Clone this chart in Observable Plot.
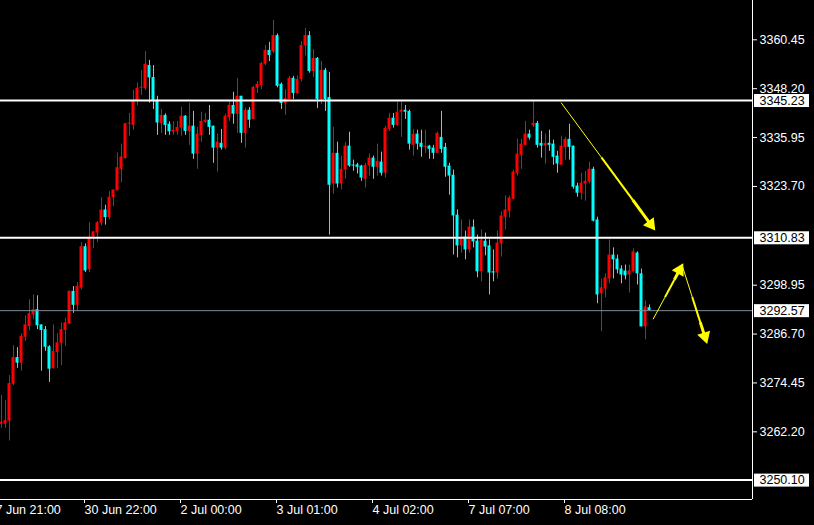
<!DOCTYPE html>
<html><head><meta charset="utf-8">
<script src="https://cdn.jsdelivr.net/npm/d3@7"></script>
<script src="https://cdn.jsdelivr.net/npm/@observablehq/plot@0.6"></script>
<style>html,body{margin:0;padding:0;background:#000;}#chart{width:814px;height:525px;overflow:hidden;}</style>
</head><body><div id="chart"></div>
<script>
// H1 candles, oldest first
const opens = [3264.1,3264.1,3264.9,3274.1,3280.8,3279.4,3285.9,3288.6,3291.5,3292.8,
3289.0,3287.8,3283.5,3278.0,3282.1,3284.4,3287.6,3289.3,3297.4,3293.9,
3298.2,3308.6,3302.8,3311.0,3312.0,3314.5,3317.8,3315.9,3320.9,3322.6,
3328.0,3330.7,3339.3,3339.0,3345.0,3348.3,3348.2,3354.0,3351.0,3345.3,
3339.5,3341.5,3339.3,3337.3,3337.5,3338.3,3341.3,3337.5,3338.8,3331.8,
3336.5,3339.8,3340.3,3338.8,3333.3,3334.5,3333.3,3341.0,3344.0,3341.8,
3346.3,3337.0,3342.8,3340.5,3348.3,3349.0,3354.3,3357.8,3357.4,3361.5,
3349.3,3344.5,3345.5,3350.8,3347.0,3350.5,3358.9,3361.5,3352.5,3355.8,
3345.5,3352.8,3346.0,3324.3,3332.0,3324.3,3327.8,3333.8,3329.05,3329.1,
3328.8,3325.5,3328.8,3330.8,3328.5,3329.8,3327.0,3338.0,3340.8,3339.0,
3342.3,3342.8,3342.5,3334.0,3336.8,3334.5,3333.5,3333.8,3333.3,3332.0,
3336.0,3333.5,3328.8,3326.5,3316.5,3308.8,3311.0,3307.8,3313.5,3310.0,
3302.3,3310.0,3308.8,3302.3,3302.0,3309.3,3316.0,3317.5,3320.5,3327.0,
3331.5,3334.0,3336.8,3339.0,3339.5,3334.5,3333.8,3334.5,3334.3,3331.3,
3329.0,3333.5,3335.5,3333.8,3323.8,3322.0,3324.3,3324.8,3328.0,3315.3,
3296.8,3298.0,3300.5,3306.5,3305.5,3303.0,3302.5,3301.5,3302.3,3307.0,
3301.8,3288.5,3293.3];
const highs = [3271.3,3270.0,3276.3,3283.8,3283.3,3286.8,3291.3,3295.3,3296.5,3296.3,
3289.0,3288.6,3283.8,3289.0,3286.8,3289.5,3290.7,3297.5,3298.6,3299.6,
3309.6,3309.3,3314.6,3312.4,3314.9,3320.9,3319.0,3322.4,3322.8,3332.1,
3334.3,3339.5,3342.0,3347.8,3349.6,3352.8,3357.5,3355.3,3354.0,3346.3,
3343.0,3341.9,3339.9,3339.9,3340.0,3343.5,3341.5,3344.5,3342.5,3338.5,
3342.3,3342.0,3344.0,3338.8,3336.8,3338.0,3341.8,3345.0,3347.3,3350.8,
3346.3,3343.3,3343.5,3348.8,3350.0,3354.8,3359.0,3359.8,3365.3,3361.9,
3349.6,3348.0,3351.3,3351.3,3351.4,3360.0,3363.3,3362.5,3358.0,3356.0,
3355.0,3353.3,3352.3,3338.5,3334.8,3331.3,3334.8,3337.3,3330.3,3329.5,
3329.0,3329.5,3331.8,3331.3,3334.3,3332.3,3338.8,3342.0,3342.0,3344.8,
3344.8,3344.0,3342.8,3338.0,3337.8,3337.8,3337.8,3334.0,3334.0,3337.3,
3342.5,3334.5,3329.5,3327.8,3317.8,3315.3,3312.5,3315.3,3315.3,3311.5,
3312.8,3312.0,3310.3,3307.8,3312.5,3317.3,3321.3,3321.3,3327.8,3335.5,
3335.5,3340.0,3337.8,3345.0,3340.0,3337.5,3336.8,3337.8,3335.3,3332.5,
3336.3,3336.0,3339.3,3333.8,3324.5,3327.0,3327.5,3329.8,3328.5,3316.0,
3300.5,3301.8,3310.3,3308.3,3306.5,3303.8,3304.0,3304.0,3308.0,3307.3,
3303.0,3295.0,3294.0];
const lows = [3263.1,3263.1,3259.9,3273.8,3278.1,3277.4,3284.9,3287.5,3290.3,3287.8,
3277.4,3282.4,3274.6,3278.0,3278.0,3278.8,3283.6,3289.1,3291.9,3292.4,
3297.8,3302.1,3302.1,3308.2,3309.6,3313.8,3314.0,3315.3,3318.6,3322.6,
3324.6,3330.5,3336.3,3337.8,3343.9,3346.5,3347.8,3344.6,3343.0,3336.5,
3337.0,3336.5,3336.5,3336.5,3336.5,3336.3,3336.5,3334.0,3330.5,3328.0,
3334.8,3339.5,3336.5,3329.5,3327.3,3332.8,3332.8,3340.0,3339.3,3337.0,
3334.5,3333.3,3338.3,3340.5,3347.0,3348.0,3354.0,3355.0,3357.0,3348.4,
3343.0,3341.5,3345.5,3345.5,3346.8,3349.9,3356.4,3352.1,3351.0,3343.2,
3344.2,3342.5,3311.5,3321.8,3323.3,3322.8,3325.5,3328.5,3327.5,3326.8,
3325.0,3323.3,3326.3,3325.5,3326.3,3326.3,3325.8,3337.5,3338.3,3338.8,
3336.0,3340.5,3332.8,3331.3,3332.8,3331.0,3332.0,3330.5,3330.5,3332.0,
3332.0,3326.0,3321.5,3306.5,3305.8,3307.0,3305.3,3307.0,3308.3,3300.8,
3299.8,3306.3,3296.5,3299.8,3300.5,3306.0,3312.8,3315.8,3320.3,3326.3,
3328.0,3334.0,3335.3,3338.5,3333.3,3330.8,3329.3,3332.5,3329.0,3327.0,
3329.0,3330.3,3330.3,3323.0,3321.0,3320.3,3320.0,3324.3,3314.8,3294.3,
3287.3,3295.8,3299.3,3300.5,3301.8,3299.3,3300.3,3297.0,3302.0,3299.0,
3288.5,3285.3,3292.57];
const closes = [3264.6,3265.0,3274.3,3280.8,3279.4,3286.1,3289.0,3291.8,3292.8,3288.8,
3287.6,3283.4,3277.9,3282.3,3284.5,3287.8,3289.5,3297.4,3293.9,3298.6,
3308.6,3302.5,3311.0,3312.3,3314.6,3317.8,3315.9,3321.0,3322.8,3328.4,
3331.1,3339.4,3339.55,3345.0,3348.3,3348.55,3354.3,3350.9,3345.3,3339.6,
3341.5,3339.0,3337.4,3337.8,3338.5,3341.3,3337.5,3338.8,3331.8,3336.8,
3340.0,3340.3,3338.5,3333.3,3334.8,3333.3,3341.3,3344.0,3341.8,3346.3,
3337.0,3342.8,3340.3,3348.5,3349.3,3354.5,3357.8,3356.5,3361.5,3348.8,
3344.5,3345.7,3350.8,3347.0,3350.5,3359.0,3361.5,3352.5,3355.8,3345.5,
3352.8,3345.5,3324.0,3332.0,3324.3,3328.0,3333.8,3328.8,3328.8,3328.5,
3325.8,3329.0,3330.8,3328.5,3330.0,3327.0,3338.3,3340.8,3339.0,3342.3,
3342.8,3342.3,3334.3,3336.8,3334.3,3333.5,3333.8,3333.0,3332.0,3337.0,
3333.0,3328.5,3326.3,3316.3,3308.8,3311.0,3307.8,3313.5,3309.8,3302.3,
3310.3,3308.5,3302.0,3302.0,3309.5,3316.3,3317.8,3320.8,3327.3,3331.8,
3334.3,3336.8,3335.8,3339.5,3334.0,3333.8,3334.5,3334.0,3331.0,3329.3,
3333.8,3335.5,3333.5,3323.5,3322.0,3324.5,3325.0,3328.0,3315.0,3296.5,
3298.3,3300.8,3306.5,3305.3,3302.8,3301.5,3301.3,3302.5,3307.3,3301.8,
3288.5,3293.5,3292.57];

const levels = [3345.23, 3310.83, 3250.10];
const lastPrice = 3292.57;
const yTicks = [3360.45, 3348.20, 3335.95, 3323.70, 3298.95, 3286.70, 3274.45, 3262.20];
const xTickIndex = [-3, 21, 45, 69, 93, 117, 141];
const xTickLabels = ["27 Jun 21:00", "30 Jun 22:00", "2 Jul 00:00", "3 Jul 01:00", "4 Jul 02:00", "7 Jul 07:00", "8 Jul 08:00"];
const arrowFromX = [139.9, 162.9, 170.1];
const arrowFromY = [3344.7, 3290.4, 3304.1];
const arrowToX = [163.4, 170.4, 176.4];
const arrowToY = [3312.7, 3304.4, 3284.3];
const xDomain = [-0.25, 187.75];
const yDomain = [3245.24, 3370.3];

const W = 814, H = 525, ML = 0, MR = 62, MT = 0, MB = 26;
const RED = "#ff0000", CYAN = "#00ffff", YEL = "#ffff00";
const candles = opens.map((o, i) => ({i, open: o, high: highs[i], low: lows[i], close: closes[i]}));
const col = d => d.close >= d.open ? RED : CYAN;
const labelLevels = [...levels, lastPrice];
const FONT = "'Liberation Sans', Arial, sans-serif";

// arrow geometry: shaft tapering toward a filled triangular head
const kx = (W - ML - MR) / (xDomain[1] - xDomain[0]);
const ky = (H - MT - MB) / (yDomain[1] - yDomain[0]);
const HEAD_BACK = 7.5;
const heads = [], shafts = [];
const taper = [[0, 0.45, 1], [0.45, 0.8, 2], [0.8, 1, 3]];
arrowFromX.forEach((x1, i) => {
  const y1 = arrowFromY[i], x2 = arrowToX[i], y2 = arrowToY[i];
  const sx = (x2 - x1) * kx, sy = -(y2 - y1) * ky;
  const len = Math.hypot(sx, sy), ux = sx / len, uy = sy / len;
  const cx = x2 - HEAD_BACK * ux / kx, cy = y2 + HEAD_BACK * uy / ky;
  heads.push({x: cx, y: cy, rotate: Math.atan2(sy, sx) * 180 / Math.PI + 90});
  for (const [a, b, w] of taper) {
    shafts.push({x1: x1 + (cx - x1) * a, y1: y1 + (cy - y1) * a, x2: x1 + (cx - x1) * b, y2: y1 + (cy - y1) * b, w});
  }
});

const chart = Plot.plot({
  width: W, height: H,
  marginLeft: ML, marginRight: MR, marginTop: MT, marginBottom: MB,
  x: {type: "linear", domain: xDomain},
  y: {type: "linear", domain: yDomain},
  color: {type: "identity"},
  style: {background: "#000", color: "#fff", fontFamily: FONT, fontSize: "12.5px"},
  marks: [
    Plot.ruleX(candles, {x: "i", y1: "low", y2: "high", stroke: col, strokeWidth: 1}),
    Plot.rect(candles, {x1: d => d.i - 0.375, x2: d => d.i + 0.375, y1: "open", y2: "close", fill: col}),
    Plot.ruleY([lastPrice], {stroke: "#7f8c99", strokeWidth: 1}),
    Plot.ruleY(levels, {stroke: "#ffffff", strokeWidth: 2}),
    Plot.link(shafts, {x1: "x1", y1: "y1", x2: "x2", y2: "y2", stroke: YEL, strokeWidth: "w"}),
    Plot.dot(heads, {x: "x", y: "y", symbol: "triangle", rotate: "rotate", r: 5, fill: YEL, stroke: null}),
    Plot.ruleX([xDomain[1]], {stroke: "#ffffff"}),
    Plot.ruleY([yDomain[0]], {stroke: "#ffffff"}),
    Plot.axisY(yTicks, {anchor: "right", tickSize: 4, tickPadding: 3, tickFormat: d => d.toFixed(2), color: "#ffffff", fontSize: 12.5}),
    Plot.axisX(xTickIndex, {anchor: "bottom", tickSize: 4, tickPadding: 2, tickFormat: d => xTickLabels[xTickIndex.indexOf(d)], textAnchor: "start", dx: -1, color: "#ffffff", fontSize: 12.5}),
    Plot.rect(labelLevels, {x1: () => xDomain[1], x2: () => xDomain[1], y1: d => d, y2: d => d, insetLeft: 2, insetRight: -57, insetTop: -6, insetBottom: -7, fill: "#ffffff"}),
    Plot.text(labelLevels, {x: () => xDomain[1], y: d => d, text: d => d.toFixed(2), dx: 7, textAnchor: "start", fill: "#000000", fontSize: 12.5})
  ]
});
document.getElementById("chart").appendChild(chart);
</script>
</body></html>
